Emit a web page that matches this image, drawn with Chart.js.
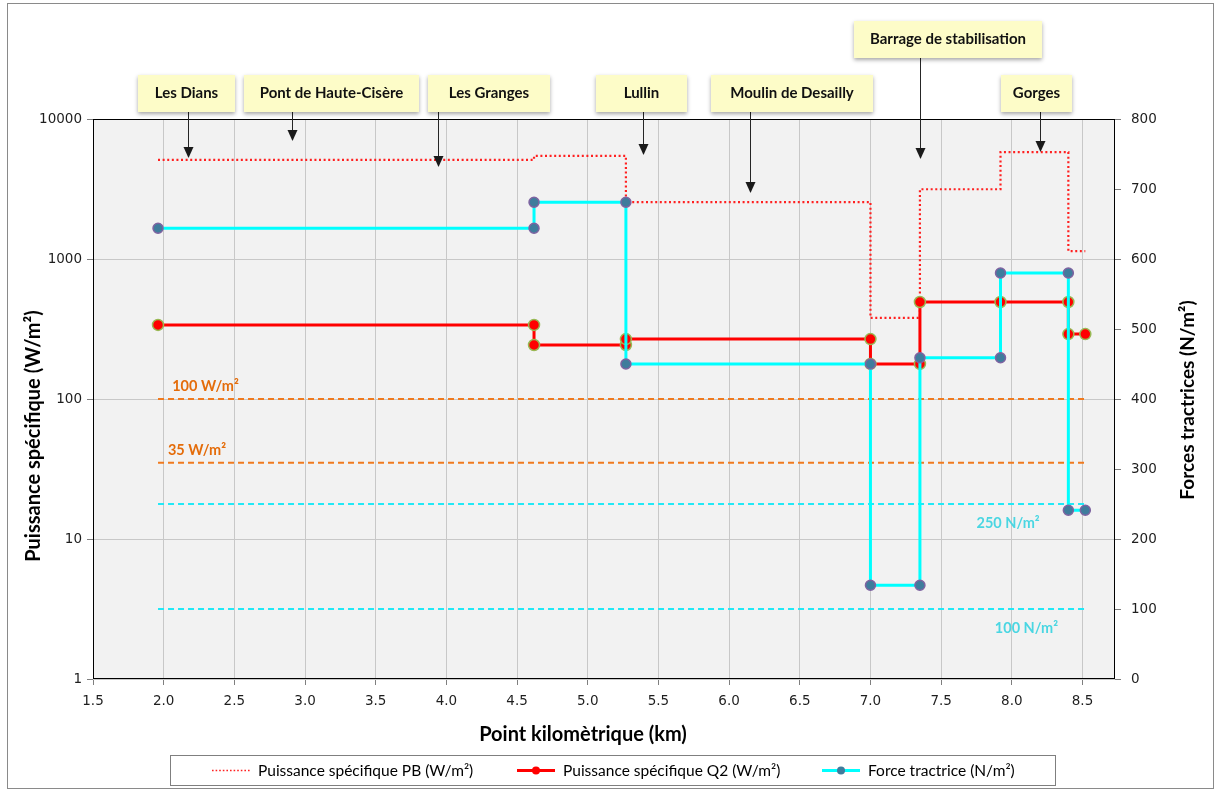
<!DOCTYPE html>
<html>
<head>
<meta charset="utf-8">
<script src="https://cdn.jsdelivr.net/npm/chart.js@4.4.1/dist/chart.umd.min.js"></script>
<style>
  html, body { margin: 0; padding: 0; background: #ffffff; }
  canvas { display: block; }
</style>
</head>
<body>
<canvas id="profil" width="1216" height="791"></canvas>
<script>
// Profil en long : puissance spécifique et force tractrice le long du cours d'eau

// Point kilométrique (km) des sommets de chaque tracé en escalier
const pkPB    = [1.96, 4.62, 4.62, 5.27, 5.27, 7.00, 7.00, 7.35, 7.35, 7.92, 7.92, 8.40, 8.40, 8.52];
const pkQ2    = [1.96, 4.62, 4.62, 5.27, 5.27, 7.00, 7.00, 7.35, 7.35, 7.92, 8.40, 8.40, 8.52];
const pkForce = [1.96, 4.62, 4.62, 5.27, 5.27, 7.00, 7.00, 7.35, 7.35, 7.92, 7.92, 8.40, 8.40, 8.52];

// Puissance spécifique (W/m²) et force tractrice (N/m²)
const puissancePB = [5100, 5100, 5450, 5450, 2550, 2550, 380, 380, 3150, 3150, 5800, 5800, 1140, 1140];
const puissanceQ2 = [338, 338, 243, 243, 268, 268, 178, 178, 493, 493, 493, 291, 291];
const forceTractrice = [644, 644, 681, 681, 450, 450, 134, 134, 459, 459, 580, 580, 241, 241];

// Seuils de référence
const pkSeuils = [1.96, 8.52];
const seuilsPuissance = [100, 35];
const seuilsPuissanceLabels = ['100 W/m²', '35 W/m²'];
const seuilsForce = [250, 100];
const seuilsForceLabels = ['250 N/m²', '100 N/m²'];

// Graduations
const ticksPk = [1.5, 2.0, 2.5, 3.0, 3.5, 4.0, 4.5, 5.0, 5.5, 6.0, 6.5, 7.0, 7.5, 8.0, 8.5];
const ticksPuissance = [1, 10, 100, 1000, 10000];
const ticksForce = [0, 100, 200, 300, 400, 500, 600, 700, 800];

// Sites repérés le long du profil
const sites = ['Les Dians', 'Pont de Haute-Cisère', 'Les Granges', 'Lullin', 'Moulin de Desailly', 'Barrage de stabilisation', 'Gorges'];
const sitesPk = [2.17, 2.91, 3.94, 5.39, 6.15, 7.35, 8.20];
const sitesNiveau = [5260, 6970, 4540, 5530, 2960, 5180, 5800];

const toPts = (xs, ys) => xs.map((x, i) => ({ x: x, y: ys[i] }));

const COLORS = {
  pb: '#FF2020',
  q2: '#FF0000',
  force: '#00FFFF',
  seuilP: '#F07A1E',
  seuilPText: '#E46C0A',
  seuilF: '#22E8F6',
  seuilFText: '#4AD6E2',
  text: '#1e1e1e'
};

const TICK_FONT = { family: 'DejaVu Sans', size: 13.5 };
const BOLD = 'Lato';

// Encadrés des sites : position et taille des étiquettes (px)
const calloutLayout = [
  { left: 138, top: 75, width: 97,  height: 37 },
  { left: 244, top: 75, width: 175, height: 37 },
  { left: 428, top: 75, width: 122, height: 37 },
  { left: 596, top: 75, width: 91,  height: 37 },
  { left: 711, top: 75, width: 162, height: 37 },
  { left: 854, top: 21, width: 188, height: 37 },
  { left: 1001, top: 75, width: 71, height: 37 }
];

const seriesDatasets = [
  {
    label: 'Force tractrice (N/m²)',
    data: toPts(pkForce, forceTractrice),
    yAxisID: 'yF',
    borderColor: COLORS.force,
    backgroundColor: COLORS.force,
    borderWidth: 3,
    pointRadius: 5,
    pointBackgroundColor: '#3F7C9C',
    pointBorderColor: '#7E63A1',
    pointBorderWidth: 1.5,
    showLine: true,
    order: 1
  },
  {
    label: 'Puissance spécifique Q2 (W/m²)',
    data: toPts(pkQ2, puissanceQ2),
    yAxisID: 'yP',
    borderColor: COLORS.q2,
    backgroundColor: COLORS.q2,
    borderWidth: 3,
    pointRadius: 5.5,
    pointBackgroundColor: '#FF0000',
    pointBorderColor: '#98B954',
    pointBorderWidth: 1.5,
    showLine: true,
    order: 2
  },
  {
    label: 'Puissance spécifique PB (W/m²)',
    data: toPts(pkPB, puissancePB),
    yAxisID: 'yP',
    borderColor: COLORS.pb,
    borderWidth: 2.2,
    borderDash: [2, 2.6],
    pointRadius: 0,
    showLine: true,
    order: 3
  }
];

const seuilDatasets = [];
seuilsPuissance.forEach((v, i) => seuilDatasets.push({
  label: seuilsPuissanceLabels[i],
  data: toPts(pkSeuils, [v, v]),
  yAxisID: 'yP',
  borderColor: COLORS.seuilP,
  borderWidth: 2,
  borderDash: [6, 4],
  pointRadius: 0,
  showLine: true,
  order: 4
}));
seuilsForce.forEach((v, i) => seuilDatasets.push({
  label: seuilsForceLabels[i],
  data: toPts(pkSeuils, [v, v]),
  yAxisID: 'yF',
  borderColor: COLORS.seuilF,
  borderWidth: 2,
  borderDash: [6, 4],
  pointRadius: 0,
  showLine: true,
  order: 5
}));

// Fond et cadre de la zone de tracé
const plotFrame = {
  id: 'plotFrame',
  beforeDraw(chart) {
    const { ctx, chartArea: a } = chart;
    ctx.save();
    ctx.fillStyle = '#ffffff';
    ctx.fillRect(0, 0, chart.width, chart.height);
    ctx.strokeStyle = '#8a8a8a';
    ctx.lineWidth = 1;
    ctx.strokeRect(7.5, 3.5, chart.width - 10, chart.height - 6);
    ctx.fillStyle = '#F2F2F2';
    ctx.fillRect(a.left, a.top, a.right - a.left, a.bottom - a.top);
    ctx.restore();
  },
  beforeDatasetsDraw(chart) {
    const { ctx, chartArea: a } = chart;
    ctx.save();
    ctx.strokeStyle = '#000000';
    ctx.lineWidth = 1;
    ctx.strokeRect(Math.round(a.left) + 0.5, Math.round(a.top) + 0.5,
      Math.round(a.right - a.left) - 1, Math.round(a.bottom - a.top) - 1);
    ctx.restore();
  }
};

// Textes : titres d'axes, libellés des seuils, encadrés des sites, légende
const decorations = {
  id: 'decorations',
  afterDraw(chart) {
    const { ctx } = chart;
    const sx = chart.scales.x, sp = chart.scales.yP, sf = chart.scales.yF;
    ctx.save();

    // Titres d'axes
    ctx.fillStyle = '#000000';
    ctx.textAlign = 'center';
    ctx.textBaseline = 'middle';
    ctx.font = `bold 20px ${BOLD}`;
    ctx.fillText('Point kilomètrique (km)', 583, 735);
    ctx.save();
    ctx.translate(34, 436);
    ctx.rotate(-Math.PI / 2);
    ctx.fillText('Puissance spécifique (W/m²)', 0, 0);
    ctx.restore();
    ctx.save();
    ctx.translate(1188, 400);
    ctx.rotate(-Math.PI / 2);
    ctx.font = `bold 19px ${BOLD}`;
    ctx.fillText('Forces tractrices (N/m²)', 0, 0);
    ctx.restore();

    // Libellés des seuils
    ctx.font = `bold 14.5px ${BOLD}`;
    ctx.textAlign = 'left';
    ctx.fillStyle = COLORS.seuilPText;
    const pLabelPk = [2.06, 2.03];
    seuilsPuissance.forEach((v, i) => {
      ctx.fillText(seuilsPuissanceLabels[i], sx.getPixelForValue(pLabelPk[i]), sp.getPixelForValue(v) - 13);
    });
    ctx.fillStyle = COLORS.seuilFText;
    const fLabelPk = [7.75, 7.88];
    seuilsForce.forEach((v, i) => {
      ctx.fillText(seuilsForceLabels[i], sx.getPixelForValue(fLabelPk[i]), sf.getPixelForValue(v) + 19);
    });

    // Encadrés des sites avec flèches
    sites.forEach((name, i) => {
      const b = calloutLayout[i];
      const ax = Math.round(sx.getPixelForValue(sitesPk[i])) + 0.5;
      const tip = sp.getPixelForValue(sitesNiveau[i]);
      ctx.strokeStyle = '#262626';
      ctx.lineWidth = 1;
      ctx.beginPath();
      ctx.moveTo(ax, b.top + b.height);
      ctx.lineTo(ax, tip - 8);
      ctx.stroke();
      ctx.fillStyle = '#1a1a1a';
      ctx.beginPath();
      ctx.moveTo(ax - 5, tip - 11);
      ctx.lineTo(ax + 5, tip - 11);
      ctx.lineTo(ax, tip);
      ctx.closePath();
      ctx.fill();

      ctx.save();
      ctx.shadowColor = 'rgba(0,0,0,0.35)';
      ctx.shadowBlur = 4;
      ctx.shadowOffsetX = 0;
      ctx.shadowOffsetY = 2;
      ctx.fillStyle = '#FDFCC8';
      ctx.fillRect(b.left, b.top, b.width, b.height);
      ctx.restore();
      ctx.fillStyle = '#111111';
      ctx.font = `bold 15px ${BOLD}`;
      ctx.textAlign = 'center';
      ctx.textBaseline = 'middle';
      ctx.fillText(name, b.left + b.width / 2, b.top + b.height / 2);
    });

    // Légende
    const lg = { left: 170.5, top: 755.5, width: 885, height: 30 };
    ctx.fillStyle = '#ffffff';
    ctx.fillRect(lg.left, lg.top, lg.width, lg.height);
    ctx.strokeStyle = '#7f7f7f';
    ctx.lineWidth = 1;
    ctx.strokeRect(lg.left, lg.top, lg.width, lg.height);
    const ly = lg.top + lg.height / 2;
    const items = [
      { ds: seriesDatasets[2], x: 212 },
      { ds: seriesDatasets[1], x: 517 },
      { ds: seriesDatasets[0], x: 822 }
    ];
    items.forEach(it => {
      const d = it.ds;
      ctx.save();
      ctx.strokeStyle = d.borderColor;
      ctx.lineWidth = d.pointRadius ? 3 : 1.6;
      ctx.setLineDash(d.pointRadius ? [] : [1.6, 2]);
      ctx.beginPath();
      ctx.moveTo(it.x, ly);
      ctx.lineTo(it.x + 38, ly);
      ctx.stroke();
      ctx.setLineDash([]);
      if (d.pointRadius) {
        ctx.fillStyle = d.pointBackgroundColor;
        ctx.beginPath();
        ctx.arc(it.x + 19, ly, 4, 0, Math.PI * 2);
        ctx.fill();
      }
      ctx.restore();
      ctx.fillStyle = '#000000';
      ctx.font = `15.5px ${BOLD}`;
      ctx.textAlign = 'left';
      ctx.textBaseline = 'middle';
      ctx.fillText(d.label, it.x + 46, ly);
    });

    ctx.restore();
  }
};

new Chart(document.getElementById('profil'), {
  type: 'scatter',
  data: { datasets: seriesDatasets.concat(seuilDatasets) },
  options: {
    responsive: false,
    devicePixelRatio: 1,
    animation: false,
    events: [],
    layout: { padding: { top: 119, left: 0, right: 0, bottom: 0 } },
    plugins: { legend: { display: false }, tooltip: { enabled: false } },
    scales: {
      x: {
        type: 'linear',
        position: 'bottom',
        min: 1.5,
        max: 8.73,
        afterBuildTicks: s => { s.ticks = ticksPk.map(v => ({ value: v })); },
        afterFit: s => { s.height = 112; },
        ticks: {
          font: TICK_FONT, color: COLORS.text, padding: 8,
          maxRotation: 0, autoSkip: false,
          callback: v => Number(v).toFixed(1)
        },
        grid: { color: '#C8C8C8', lineWidth: 1, tickLength: 6, tickColor: '#7f7f7f' },
        border: { display: false }
      },
      yP: {
        type: 'logarithmic',
        position: 'left',
        min: 1,
        max: 10000,
        afterBuildTicks: s => { s.ticks = ticksPuissance.map(v => ({ value: v })); },
        afterFit: s => { s.width = 93; },
        ticks: { font: TICK_FONT, color: COLORS.text, padding: 5, autoSkip: false, callback: v => String(v) },
        grid: { color: '#C8C8C8', lineWidth: 1, tickLength: 6, tickColor: '#7f7f7f' },
        border: { display: false }
      },
      yF: {
        type: 'linear',
        position: 'right',
        min: 0,
        max: 800,
        afterBuildTicks: s => { s.ticks = ticksForce.map(v => ({ value: v })); },
        afterFit: s => { s.width = 101; },
        ticks: { font: TICK_FONT, color: COLORS.text, padding: 10, autoSkip: false },
        grid: { drawOnChartArea: false, tickLength: 6, tickColor: '#7f7f7f' },
        border: { display: false }
      }
    }
  },
  plugins: [plotFrame, decorations]
});
</script>
</body>
</html>
